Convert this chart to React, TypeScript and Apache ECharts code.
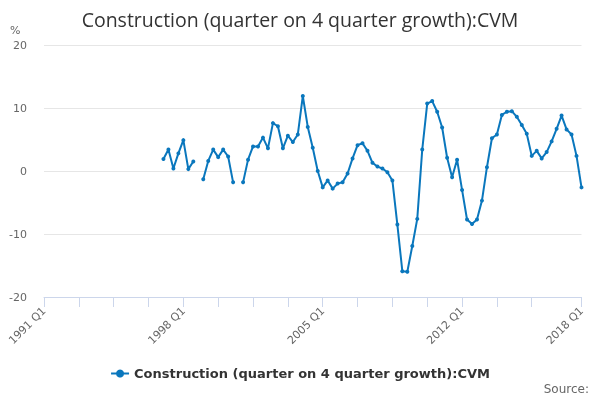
import React, { useEffect, useRef } from 'react';
import * as echarts from 'echarts';

// quarters 1991 Q1 .. 2018 Q1
const firstYear = 1991;
const lastYear = 2018;
const quarters: string[] = [];
for (let y = firstYear; y <= lastYear; y++) {
  for (let q = 1; q <= 4; q++) {
    if (y === lastYear && q > 1) break;
    quarters.push(`${y} Q${q}`);
  }
}

// series starts at 1997 Q1 (nothing before)
const seriesStart = '1997 Q1';
const growth: (number | null)[] = [
  1.9, 3.4, 0.4, 2.8, 4.9, 0.3, 1.5, null,
  -1.3, 1.6, 3.4, 2.2, 3.4, 2.3, -1.8, null,
  -1.8, 1.8, 3.9, 3.9, 5.3, 3.6, 7.6, 7.1,
  3.6, 5.6, 4.6, 5.8, 11.9, 7.0, 3.7, 0.0,
  -2.6, -1.5, -2.8, -2.0, -1.8, -0.4, 2.0, 4.1,
  4.4, 3.2, 1.3, 0.7, 0.4, -0.2, -1.5, -8.5,
  -15.9, -16.0, -11.9, -7.6, 3.4, 10.7, 11.1, 9.4,
  6.9, 2.1, -1.0, 1.8, -3.0, -7.7, -8.4, -7.7,
  -4.7, 0.6, 5.2, 5.8, 8.9, 9.4, 9.5, 8.6,
  7.3, 5.9, 2.4, 3.2, 2.0, 3.0, 4.7, 6.7,
  8.8, 6.6, 5.8, 2.4, -2.6,
];

const yTicks = [-20, -10, 0, 10, 20];
const seriesName = 'Construction (quarter on 4 quarter growth):CVM';

export default function App() {
  const chartRef = useRef<HTMLDivElement>(null);

  useEffect(() => {
    if (!chartRef.current) return;
    const chart = echarts.init(chartRef.current, null, { renderer: 'svg' });

    const offset = quarters.indexOf(seriesStart);
    const data = quarters.map((_, i) =>
      i >= offset && i - offset < growth.length ? growth[i - offset] : null
    );
    const last = quarters.length - 1;

    const option: echarts.EChartsOption = {
      animation: false,
      title: {
        text: seriesName,
        left: 'center',
        top: 4,
        textStyle: {
          fontFamily: 'Open Sans',
          fontSize: 19.5,
          fontWeight: 'normal',
          color: '#333333',
        },
      },
      grid: { left: 44, right: 18.5, top: 45, bottom: 103 },
      xAxis: {
        type: 'category',
        data: quarters,
        boundaryGap: false,
        axisLine: { onZero: false, lineStyle: { color: '#ccd6eb' } },
        axisTick: {
          length: 10,
          lineStyle: { color: '#ccd6eb' },
          interval: (i: number) => (i % 7 === 0 && i <= 98) || i === last,
        },
        axisLabel: {
          rotate: 45,
          margin: 12,
          color: '#666666',
          fontFamily: 'DejaVu Sans',
          fontSize: 11,
          interval: (i: number) => i % 28 === 0 || i === last,
        },
        splitLine: { show: false },
      },
      yAxis: {
        type: 'value',
        min: yTicks[0],
        max: yTicks[yTicks.length - 1],
        interval: 10,
        axisLine: { show: false },
        axisTick: { show: false },
        axisLabel: {
          color: '#666666',
          fontFamily: 'DejaVu Sans',
          fontSize: 11,
          margin: 17,
        },
        splitLine: { lineStyle: { color: '#e6e6e6' } },
      },
      legend: {
        bottom: 15,
        left: 'center',
        itemWidth: 18,
        itemHeight: 10,
        textStyle: {
          fontFamily: 'DejaVu Sans',
          fontSize: 13,
          fontWeight: 'bold',
          color: '#333333',
        },
      },
      graphic: [
        {
          type: 'text',
          left: 10,
          top: 25,
          style: { text: '%', fontFamily: 'DejaVu Sans', fontSize: 11, fill: '#666666' },
        },
        {
          type: 'text',
          right: 11,
          top: 383,
          style: { text: 'Source:', fontFamily: 'DejaVu Sans', fontSize: 12, fill: '#666666' },
        },
      ],
      series: [
        {
          name: seriesName,
          type: 'line',
          data,
          connectNulls: false,
          showAllSymbol: true,
          symbol: 'circle',
          symbolSize: 4,
          lineStyle: { width: 2, color: '#0a77bd' },
          itemStyle: { color: '#0a77bd' },
        },
      ],
    };

    chart.setOption(option);
    return () => {
      chart.dispose();
    };
  }, []);

  return (
    <div
      ref={chartRef}
      style={{ position: 'fixed', left: 0, top: 0, width: '600px', height: '400px' }}
    />
  );
}
